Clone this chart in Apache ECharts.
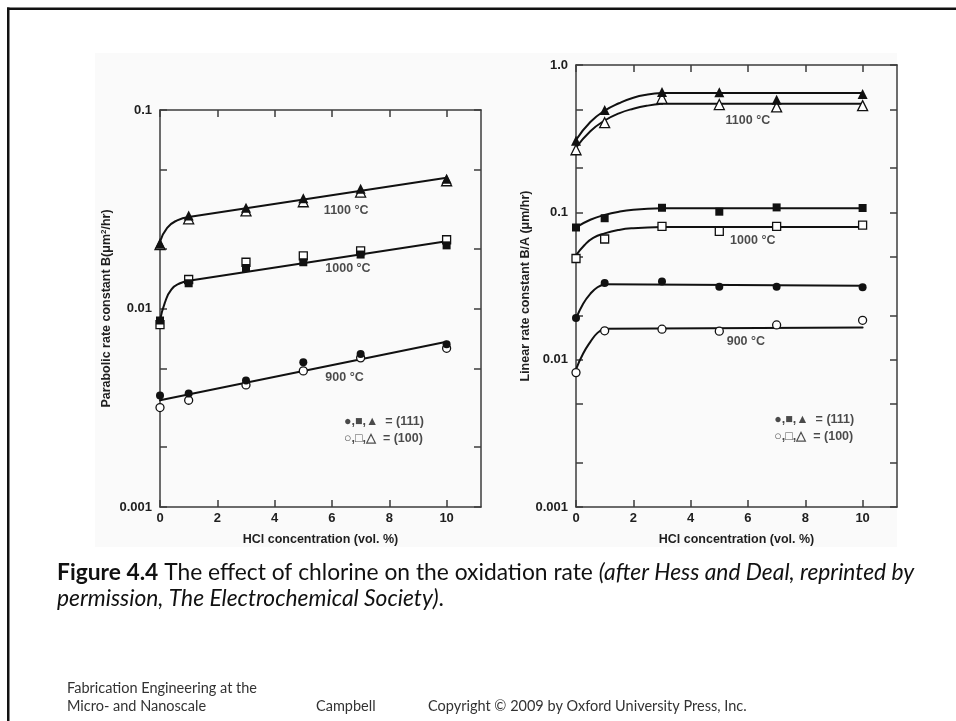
<!DOCTYPE html>
<html><head><meta charset="utf-8">
<script src="https://cdn.jsdelivr.net/npm/echarts@6/dist/echarts.min.js"></script>
<style>html,body{margin:0;padding:0;background:#fff}#c{width:956px;height:721px}</style>
</head><body><div id="c"></div>
<script>
// ---------- data ----------
const hcl = [0, 1, 3, 5, 7, 10];
const xTicks = [0, 2, 4, 6, 8, 10];
// Left: parabolic rate constant B (um^2/hr)
const B1100_111 = [0.0212, 0.0294, 0.0322, 0.0359, 0.0401, 0.045];
const B1100_100 = [0.021, 0.0283, 0.031, 0.0345, 0.0386, 0.044];
const B1000_111 = [0.0087, 0.0134, 0.016, 0.0171, 0.0187, 0.0208];
const B1000_100 = [0.0083, 0.014, 0.0171, 0.0184, 0.0195, 0.0222];
const B900_111  = [0.00364, 0.00373, 0.00434, 0.00536, 0.0059, 0.0066];
const B900_100  = [0.00317, 0.00345, 0.00412, 0.00485, 0.00564, 0.0063];
// fitted curves (left): knee part + straight part
const fitB1100_kx = [0, 0.25, 0.6, 1];
const fitB1100_ky = [0.0217, 0.0255, 0.0278, 0.0289];
const fitB1100_sx = [1, 10];
const fitB1100_sy = [0.0289, 0.0456];
const fitB1000_kx = [0, 0.17, 0.4, 0.7, 1];
const fitB1000_ky = [0.0087, 0.0107, 0.0125, 0.0134, 0.0138];
const fitB1000_sx = [1, 10];
const fitB1000_sy = [0.0138, 0.0218];
const fitB900_sx = [0, 10];
const fitB900_sy = [0.00345, 0.0068];
// Right: linear rate constant B/A (um/hr)
const BA1100_111 = [0.306, 0.494, 0.656, 0.652, 0.582, 0.635];
const BA1100_100 = [0.266, 0.406, 0.594, 0.539, 0.52, 0.53];
const BA1000_111 = [0.0789, 0.0912, 0.1074, 0.101, 0.108, 0.107];
const BA1000_100 = [0.0486, 0.0659, 0.0802, 0.0742, 0.0802, 0.082];
const BA900_111  = [0.0192, 0.0332, 0.0339, 0.0312, 0.0312, 0.031];
const BA900_100  = [0.00817, 0.0157, 0.0161, 0.0156, 0.0172, 0.0185];
// fitted curves (right)
const fitBA1100a_kx = [0, 0.5, 1, 1.5, 2, 2.5, 3];
const fitBA1100a_ky = [0.31, 0.41, 0.49, 0.55, 0.6, 0.63, 0.645];
const fitBA1100a_sx = [3, 10];
const fitBA1100a_sy = [0.645, 0.645];
const fitBA1100b_kx = [0, 0.5, 1, 1.5, 2, 2.5, 3];
const fitBA1100b_ky = [0.275, 0.355, 0.42, 0.47, 0.505, 0.53, 0.545];
const fitBA1100b_sx = [3, 10];
const fitBA1100b_sy = [0.545, 0.545];
const fitBA1000a_kx = [0, 0.5, 1, 1.5, 2, 3];
const fitBA1000a_ky = [0.079, 0.089, 0.096, 0.101, 0.104, 0.1065];
const fitBA1000a_sx = [3, 10];
const fitBA1000a_sy = [0.1065, 0.1065];
const fitBA1000b_kx = [0, 0.3, 0.6, 1, 1.5, 2, 3];
const fitBA1000b_ky = [0.051, 0.06, 0.067, 0.072, 0.076, 0.078, 0.0795];
const fitBA1000b_sx = [3, 10];
const fitBA1000b_sy = [0.0795, 0.0795];
const fitBA900a_kx = [0, 0.25, 0.5, 0.75, 1];
const fitBA900a_ky = [0.019, 0.024, 0.028, 0.031, 0.0325];
const fitBA900a_sx = [1, 10];
const fitBA900a_sy = [0.0325, 0.0318];
const fitBA900b_kx = [0, 0.25, 0.5, 0.75, 1];
const fitBA900b_ky = [0.0086, 0.011, 0.0132, 0.0152, 0.0162];
const fitBA900b_sx = [1, 10];
const fitBA900b_sy = [0.0162, 0.0165];
// tick values / labels
const leftYTicks = [0.001, 0.002, 0.005, 0.01, 0.02, 0.05, 0.1];
const leftYLabelVals = [0.001, 0.01, 0.1];
const leftYLabels = ['0.001', '0.01', '0.1'];
const rightYTicks = [0.001, 0.002, 0.005, 0.01, 0.02, 0.05, 0.1, 0.2, 0.5, 1];
const rightYLabelVals = [0.001, 0.01, 0.1, 1];
const rightYLabels = ['0.001', '0.01', '0.1', '1.0'];
const xName = 'HCl concentration (vol. %)';
const leftYName = 'Parabolic rate constant B(\u03bcm{s|2}/hr)';
const rightYName = 'Linear rate constant B/A (\u03bcm/hr)';
// annotations (text, x, y in data units)
const leftNotes = [['1100 \u00b0C', 5.7, 0.0313], ['1000 \u00b0C', 5.75, 0.0159], ['900 \u00b0C', 5.75, 0.00451],
  ['\u25cf,\u25a0,\u25b2  = (111)', 6.4, 0.0027], ['\u25cb,\u25a1,\u25b3  = (100)', 6.4, 0.0022]];
const rightNotes = [['1100 \u00b0C', 5.2, 0.421], ['1000 \u00b0C', 5.36, 0.0646], ['900 \u00b0C', 5.24, 0.0133],
  ['\u25cf,\u25a0,\u25b2  = (111)', 6.9, 0.0039], ['\u25cb,\u25a1,\u25b3  = (100)', 6.9, 0.003]];
// page texts
const captionBold = 'Figure 4.4';
const captionText = ' The effect of chlorine on the oxidation rate ';
const captionItalic1 = '(after Hess and Deal, reprinted by';
const captionItalic2 = 'permission, The Electrochemical Society)';
const footerLeft = 'Fabrication Engineering at the\nMicro- and Nanoscale';
const footerMid = 'Campbell';
const footerRight = 'Copyright \u00a9 2009 by Oxford University Press, Inc.';

// ---------- chart ----------
const F = "'Liberation Sans',Arial,Helvetica,sans-serif";
const CF = "Lato,'Open Sans',sans-serif";
const AX = '#3c3c3c';
const XMAX = 11.2;
const chart = echarts.init(document.getElementById('c'), null, {renderer: 'canvas'});

function xAx(gi, pos, labels) {
  return {
    type: 'value', gridIndex: gi, position: pos, min: 0, max: XMAX,
    axisLine: {show: true, onZero: false, lineStyle: {color: AX, width: 1.5}},
    axisTick: {show: true, inside: true, length: 7, customValues: xTicks, lineStyle: {color: AX, width: 1.5}},
    axisLabel: {show: labels, customValues: xTicks, color: '#1e1e1e', fontFamily: F, fontWeight: 'bold', fontSize: 13, margin: 5},
    splitLine: {show: false},
    name: labels ? xName : '', nameLocation: 'middle', nameGap: 26,
    nameTextStyle: {color: '#1e1e1e', fontFamily: F, fontWeight: 'bold', fontSize: 12.5}
  };
}
function yAx(gi, pos, max, ticks, lv, lt, name, gap) {
  return {
    type: 'log', logBase: 10, gridIndex: gi, position: pos, min: 0.001, max: max,
    axisLine: {show: true, onZero: false, lineStyle: {color: AX, width: 1.5}},
    axisTick: {show: true, inside: true, length: 7, customValues: ticks, lineStyle: {color: AX, width: 1.5}},
    axisLabel: {show: !!lv, customValues: lv || undefined, color: '#1e1e1e', fontFamily: F, fontWeight: 'bold', fontSize: 13, margin: 8,
      formatter: function (v) {
        if (!lv) return '';
        let best = 0, bd = 1e9;
        lv.forEach((t, i) => { const d = Math.abs(Math.log10(t) - Math.log10(v)); if (d < bd) { bd = d; best = i; } });
        return lt[best];
      }},
    splitLine: {show: false}, minorTick: {show: false},
    name: name || '', nameLocation: 'middle', nameRotate: 90, nameGap: gap || 0,
    nameTextStyle: {color: '#1e1e1e', fontFamily: F, fontWeight: 'bold', fontSize: 12.5,
      rich: {s: {fontFamily: F, fontWeight: 'bold', fontSize: 8, verticalAlign: 'top', padding: [0, 0, 6, 0]}}}
  };
}
function pts(ys) { return hcl.map((x, i) => [x, ys[i]]); }
function marks(gi, ys, symbol, filled, size) {
  return {type: 'scatter', xAxisIndex: gi * 2, yAxisIndex: gi * 2, data: pts(ys), symbol: symbol, symbolSize: size,
    itemStyle: {color: filled ? '#111' : '#fff', borderColor: '#111', borderWidth: filled ? 0 : 1.3, opacity: 1},
    z: filled ? 6 : 5, silent: true, animation: false};
}
function fit(gi, xs, ys, smooth) {
  return {type: 'line', xAxisIndex: gi * 2, yAxisIndex: gi * 2, data: xs.map((x, i) => [x, ys[i]]),
    smooth: smooth ? 0.5 : false, showSymbol: false, symbol: 'none',
    lineStyle: {color: '#111', width: 2, cap: 'round', join: 'round'}, z: 3, silent: true, animation: false};
}
function notes(gi, arr) {
  return {type: 'scatter', xAxisIndex: gi * 2, yAxisIndex: gi * 2, symbol: 'circle', symbolSize: 1,
    itemStyle: {color: 'transparent'}, silent: true, animation: false, z: 7,
    data: arr.map(a => ({name: a[0], value: [a[1], a[2]]})),
    label: {show: true, position: 'right', distance: 0, formatter: '{b}', color: '#1e1e1e',
      fontFamily: F, fontWeight: 'bold', fontSize: 12.5}};
}

const CAP = 22.8, FOOT = 14.5;
const option = {
  animation: false,
  backgroundColor: '#fff',
  grid: [
    {left: 160, top: 110, width: 321, height: 397},
    {left: 576, top: 65, width: 321, height: 442}
  ],
  xAxis: [xAx(0, 'bottom', true), xAx(0, 'top', false), xAx(1, 'bottom', true), xAx(1, 'top', false)],
  yAxis: [
    yAx(0, 'left', 0.1, leftYTicks, leftYLabelVals, leftYLabels, leftYName, 46),
    yAx(0, 'right', 0.1, leftYTicks, null, null, '', 0),
    yAx(1, 'left', 1, rightYTicks, rightYLabelVals, rightYLabels, rightYName, 44),
    yAx(1, 'right', 1, rightYTicks, null, null, '', 0)
  ],
  series: [
    fit(0, fitB1100_kx, fitB1100_ky, true), fit(0, fitB1100_sx, fitB1100_sy, false),
    fit(0, fitB1000_kx, fitB1000_ky, true), fit(0, fitB1000_sx, fitB1000_sy, false),
    fit(0, fitB900_sx, fitB900_sy, false),
    marks(0, B1100_100, 'triangle', false, 10), marks(0, B1100_111, 'triangle', true, 10),
    marks(0, B1000_100, 'rect', false, 8), marks(0, B1000_111, 'rect', true, 8),
    marks(0, B900_100, 'circle', false, 8), marks(0, B900_111, 'circle', true, 8),
    notes(0, leftNotes),
    fit(1, fitBA1100a_kx, fitBA1100a_ky, true), fit(1, fitBA1100a_sx, fitBA1100a_sy, false),
    fit(1, fitBA1100b_kx, fitBA1100b_ky, true), fit(1, fitBA1100b_sx, fitBA1100b_sy, false),
    fit(1, fitBA1000a_kx, fitBA1000a_ky, true), fit(1, fitBA1000a_sx, fitBA1000a_sy, false),
    fit(1, fitBA1000b_kx, fitBA1000b_ky, true), fit(1, fitBA1000b_sx, fitBA1000b_sy, false),
    fit(1, fitBA900a_kx, fitBA900a_ky, true), fit(1, fitBA900a_sx, fitBA900a_sy, false),
    fit(1, fitBA900b_kx, fitBA900b_ky, true), fit(1, fitBA900b_sx, fitBA900b_sy, false),
    marks(1, BA1100_100, 'triangle', false, 10), marks(1, BA1100_111, 'triangle', true, 10),
    marks(1, BA1000_100, 'rect', false, 8), marks(1, BA1000_111, 'rect', true, 8),
    marks(1, BA900_100, 'circle', false, 8), marks(1, BA900_111, 'circle', true, 8),
    notes(1, rightNotes)
  ],
  graphic: [
    {type: 'rect', z: -10, silent: true, shape: {x: 95, y: 53, width: 802, height: 494}, style: {fill: '#fafafa'}},
    {type: 'rect', z: 10, silent: true, shape: {x: 7, y: 7.5, width: 960, height: 2.5}, style: {fill: '#111'}},
    {type: 'rect', z: 10, silent: true, shape: {x: 7, y: 7.5, width: 2.5, height: 720}, style: {fill: '#111'}},
    {type: 'text', z: 10, silent: true, x: 57, y: 560, style: {
      text: '{b|' + captionBold + '}' + captionText + '{i|' + captionItalic1 + '}\n{i|' + captionItalic2 + '}.',
      font: CAP + 'px ' + CF, fill: '#111', lineHeight: 26,
      rich: {b: {fontWeight: 'bold', fontFamily: CF, fontSize: CAP, fill: '#111', lineHeight: 26},
             i: {fontStyle: 'italic', fontFamily: CF, fontSize: CAP, fill: '#111', lineHeight: 26}}}},
    {type: 'text', z: 10, silent: true, x: 67, y: 679, style: {text: footerLeft, font: FOOT + 'px ' + CF, fill: '#333', lineHeight: 18}},
    {type: 'text', z: 10, silent: true, x: 316, y: 697, style: {text: footerMid, font: FOOT + 'px ' + CF, fill: '#333', lineHeight: 18}},
    {type: 'text', z: 10, silent: true, x: 428, y: 697, style: {text: footerRight, font: FOOT + 'px ' + CF, fill: '#333', lineHeight: 18}}
  ]
};
chart.setOption(option);
</script>
</body></html>
